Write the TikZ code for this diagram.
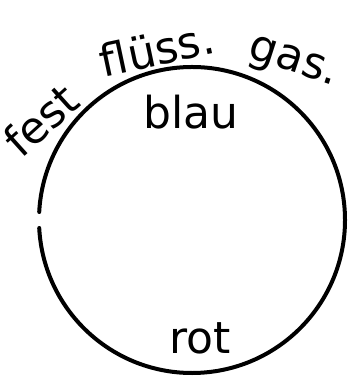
\documentclass[tikz,border=0pt]{standalone}
\usepackage{fontspec}
\setmainfont{DejaVu Sans}
\begin{document}
\begin{tikzpicture}[x=1pt,y=1pt,
  lbl/.style={inner sep=0pt, font=\fontsize{44}{44}\selectfont}]
\useasboundingbox (0,0) rectangle (348,388);
\fill[white] (0,0) rectangle (348,388);
\coordinate (c) at (192,168);
\draw[line width=4pt, line cap=round] (c) ++(183:153) arc[start angle=183, end angle=537, radius=153];
\node[lbl, rotate=42] (fest) at (41,268) {fest};
\node[lbl, rotate=12] (fluss) at (157,339) {flüss.};
\node[lbl, rotate=-18] (gas) at (293,324) {gas.};
\node[lbl] (blau) at (191,276) {blau};
\node[lbl] (rot) at (200,50) {rot};
\end{tikzpicture}
\end{document}
